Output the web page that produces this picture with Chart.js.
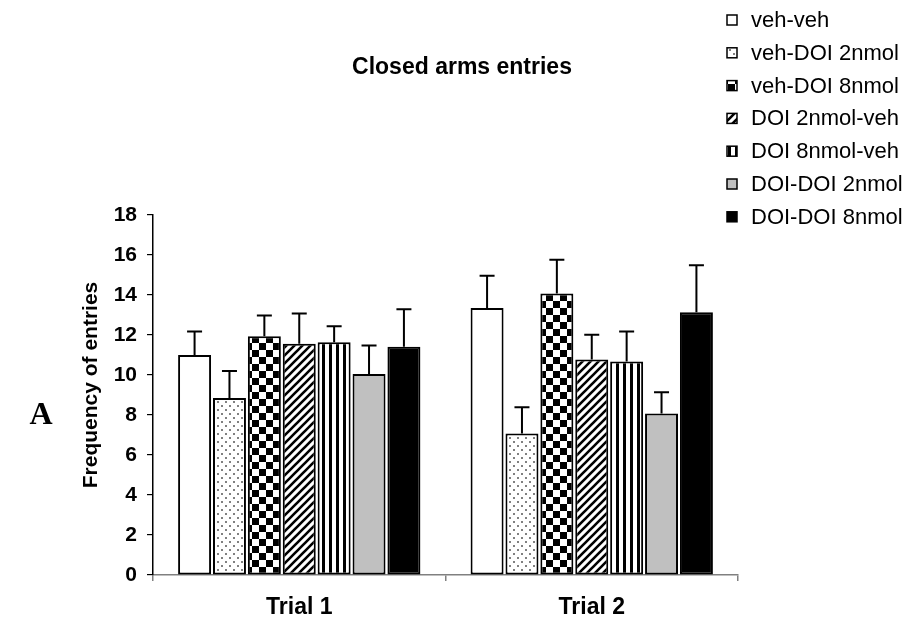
<!DOCTYPE html>
<html>
<head>
<meta charset="utf-8">
<script src="https://cdn.jsdelivr.net/npm/chart.js@4.4.1/dist/chart.umd.min.js"></script>
<style>
  html, body { margin: 0; padding: 0; background: #fff; }
  #wrap { width: 912px; height: 628px; }
</style>
</head>
<body>
<div id="wrap"><canvas id="chart" width="912" height="628"></canvas></div>
<script>
// data
const trials = ['Trial 1', 'Trial 2'];
const groups = ['veh-veh', 'veh-DOI 2nmol', 'veh-DOI 8nmol', 'DOI 2nmol-veh',
                'DOI 8nmol-veh', 'DOI-DOI 2nmol', 'DOI-DOI 8nmol'];

const vehVeh     = [11.0, 13.35];
const vehDoi2    = [8.85, 7.08];
const vehDoi8    = [11.94, 14.08];
const doi2Veh    = [11.56, 10.77];
const doi8Veh    = [11.64, 10.67];
const doiDoi2    = [10.05, 8.08];
const doiDoi8    = [11.41, 13.14];

// upper error bar (SEM)
const vehVehSem  = [1.18, 1.61];
const vehDoi2Sem = [1.35, 1.31];
const vehDoi8Sem = [1.03, 1.68];
const doi2VehSem = [1.51, 1.24];
const doi8VehSem = [0.80, 1.51];
const doiDoi2Sem = [1.43, 1.06];
const doiDoi8Sem = [1.88, 2.35];

const yMin = 0, yMax = 18, yStep = 2;

const means = [vehVeh, vehDoi2, vehDoi8, doi2Veh, doi8Veh, doiDoi2, doiDoi8];
const sems  = [vehVehSem, vehDoi2Sem, vehDoi8Sem, doi2VehSem, doi8VehSem, doiDoi2Sem, doiDoi8Sem];

const FONT = "'Liberation Sans', Arial, sans-serif";

// fill patterns like the old Excel ones
function makePattern(kind) {
    const c = document.createElement('canvas');
    let g;
    if (kind === 'dots') {
        c.width = 8; c.height = 8; g = c.getContext('2d');
        g.fillStyle = '#fff'; g.fillRect(0, 0, 8, 8);
        g.fillStyle = '#808080';
        g.fillRect(1, 1, 2, 2); g.fillRect(5, 5, 2, 2);
    } else if (kind === 'checker') {
        c.width = 14; c.height = 14; g = c.getContext('2d');
        g.fillStyle = '#fff'; g.fillRect(0, 0, 14, 14);
        g.fillStyle = '#000';
        g.fillRect(0, 0, 7, 7); g.fillRect(7, 7, 7, 7);
    } else if (kind === 'diag') {
        c.width = 8; c.height = 8; g = c.getContext('2d');
        g.fillStyle = '#fff'; g.fillRect(0, 0, 8, 8);
        g.strokeStyle = '#000'; g.lineWidth = 2.6;
        g.beginPath();
        g.moveTo(-4, 4); g.lineTo(4, -4);
        g.moveTo(0, 8); g.lineTo(8, 0);
        g.moveTo(4, 12); g.lineTo(12, 4);
        g.stroke();
    } else if (kind === 'vert') {
        c.width = 7; c.height = 7; g = c.getContext('2d');
        g.fillStyle = '#fff'; g.fillRect(0, 0, 7, 7);
        g.fillStyle = '#000'; g.fillRect(0, 0, 3, 7);
    }
    return g.createPattern(c, 'repeat');
}

const fills = ['#ffffff', makePattern('dots'), makePattern('checker'), makePattern('diag'),
               makePattern('vert'), '#c0c0c0', '#000000'];

const datasets = groups.map((name, i) => ({
    label: name,
    data: means[i],
    sem: sems[i],
    backgroundColor: fills[i],
    borderColor: '#000',
    borderWidth: 2,
    borderSkipped: false,
    categoryPercentage: 0.835,
    barPercentage: 0.945
}));

// T-shaped error bars (upper only)
const errorBars = {
    id: 'errorBars',
    afterDatasetsDraw(chart) {
        const ctx = chart.ctx;
        const y = chart.scales.y;
        ctx.save();
        ctx.strokeStyle = '#000';
        ctx.lineWidth = 2;
        chart.data.datasets.forEach((ds, i) => {
            chart.getDatasetMeta(i).data.forEach((bar, j) => {
                const top = y.getPixelForValue(ds.data[j] + ds.sem[j]);
                ctx.beginPath();
                ctx.moveTo(bar.x, bar.y);
                ctx.lineTo(bar.x, top);
                ctx.moveTo(bar.x - 7.5, top);
                ctx.lineTo(bar.x + 7.5, top);
                ctx.stroke();
            });
        });
        ctx.restore();
    }
};

// title, y title, panel letter and the legend up in the right corner
const decorations = {
    id: 'decorations',
    afterDraw(chart) {
        const ctx = chart.ctx;
        ctx.save();
        ctx.fillStyle = '#000';
        ctx.textBaseline = 'middle';

        ctx.font = 'bold 23px ' + FONT;
        ctx.textAlign = 'center';
        ctx.fillText('Closed arms entries', 462, 68);

        ctx.save();
        ctx.translate(91, 385);
        ctx.rotate(-Math.PI / 2);
        ctx.font = 'bold 21px ' + FONT;
        ctx.fillText('Frequency of entries', 0, 0);
        ctx.restore();

        ctx.font = "bold 32px 'Liberation Serif', 'Times New Roman', serif";
        ctx.fillText('A', 41, 416);

        ctx.font = '22px ' + FONT;
        ctx.textAlign = 'left';
        chart.data.datasets.forEach((ds, i) => {
            const rowY = 20 + i * 32.8;
            ctx.fillStyle = ds.backgroundColor;
            ctx.fillRect(727, rowY - 5, 10, 10);
            ctx.strokeStyle = '#000';
            ctx.lineWidth = 1.5;
            ctx.strokeRect(727, rowY - 5, 10, 10);
            ctx.fillStyle = '#000';
            ctx.fillText(ds.label, 751, rowY + 1);
        });
        ctx.restore();
    }
};

const ctx = document.getElementById('chart').getContext('2d');
const chart = new Chart(ctx, {
    type: 'bar',
    data: { labels: trials, datasets: datasets },
    options: {
        responsive: false,
        animation: false,
        devicePixelRatio: 1,
        layout: { padding: { top: 215, right: 174, bottom: 0, left: 0 } },
        plugins: {
            legend: { display: false },
            tooltip: { enabled: false }
        },
        scales: {
            x: {
                grid: { drawOnChartArea: false, drawTicks: true, tickLength: 6, color: '#808080', lineWidth: 1.5 },
                border: { display: true, color: '#808080', width: 1.5 },
                ticks: { color: '#000', padding: 13, font: { family: FONT, size: 23, weight: 'bold' } },
                afterFit(scale) { scale.height = 53; }
            },
            y: {
                min: yMin,
                max: yMax,
                grid: { drawOnChartArea: false, drawTicks: true, tickLength: 6, color: '#000', lineWidth: 1.2 },
                border: { display: true, color: '#000', width: 1.5 },
                ticks: { stepSize: yStep, color: '#000', padding: 10, font: { family: FONT, size: 21, weight: 'bold' } },
                afterFit(scale) { scale.width = 153; }
            }
        }
    },
    plugins: [errorBars, decorations]
});
</script>
</body>
</html>
